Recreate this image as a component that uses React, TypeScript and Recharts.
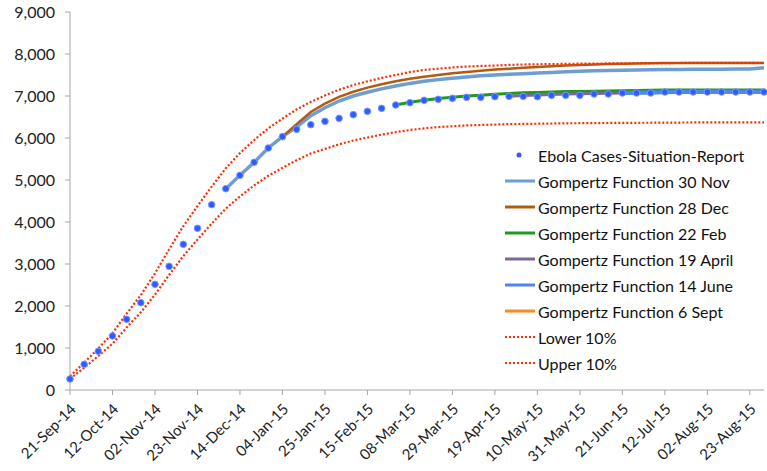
import { ComposedChart, Line, XAxis, YAxis, Legend } from 'recharts';

// weekly report dates
const dates = [
  '21-Sep-14', '28-Sep-14', '05-Oct-14', '12-Oct-14', '19-Oct-14', '26-Oct-14', '02-Nov-14', '09-Nov-14',
  '16-Nov-14', '23-Nov-14', '30-Nov-14', '07-Dec-14', '14-Dec-14', '21-Dec-14', '28-Dec-14', '04-Jan-15',
  '11-Jan-15', '18-Jan-15', '25-Jan-15', '01-Feb-15', '08-Feb-15', '15-Feb-15', '22-Feb-15', '01-Mar-15',
  '08-Mar-15', '15-Mar-15', '22-Mar-15', '29-Mar-15', '05-Apr-15', '12-Apr-15', '19-Apr-15', '26-Apr-15',
  '03-May-15', '10-May-15', '17-May-15', '24-May-15', '31-May-15', '07-Jun-15', '14-Jun-15', '21-Jun-15',
  '28-Jun-15', '05-Jul-15', '12-Jul-15', '19-Jul-15', '26-Jul-15', '02-Aug-15', '09-Aug-15', '16-Aug-15',
  '23-Aug-15', '30-Aug-15',
];

const ebola = [
  262, 611, 921, 1286, 1683, 2079, 2516, 2944, 3468, 3850, 4412, 4793, 5111, 5421, 5762, 6032, 6206, 6317,
  6397, 6468, 6556, 6635, 6706, 6786, 6841, 6897, 6921, 6944, 6968, 6968, 6984, 6992, 6992, 6984, 7016, 7016,
  7016, 7048, 7048, 7071, 7071, 7071, 7095, 7095, 7095, 7095, 7095, 7095, 7095, 7095,
];

const n = null;

const gomp30Nov = [
  n, n, n, n, n, n, n, n, n, n, n,
  4793, 5111, 5421, 5762, 6032, 6260, 6530, 6720, 6880, 7000, 7090, 7170, 7240, 7300, 7350, 7390, 7420, 7450,
  7480, 7500, 7515, 7530, 7545, 7560, 7575, 7590, 7600, 7610, 7615, 7620, 7625, 7630, 7630, 7635, 7635, 7635,
  7640, 7645, 7670,
];

const gomp28Dec = [
  n, n, n, n, n, n, n, n, n, n, n, n, n, n, n,
  6032, 6330, 6620, 6820, 6980, 7100, 7200, 7280, 7350, 7410, 7460, 7500, 7540, 7570, 7600, 7630, 7650, 7670,
  7690, 7710, 7725, 7740, 7750, 7760, 7770, 7775, 7780, 7785, 7785, 7785, 7785, 7785, 7785, 7785, 7785,
];

const gomp22Feb = [
  n, n, n, n, n, n, n, n, n, n, n, n, n, n, n, n, n, n, n, n, n, n, n,
  6786, 6850, 6900, 6940, 6970, 7000, 7020, 7040, 7060, 7075, 7085, 7095, 7105, 7110, 7115, 7120, 7125, 7130,
  7135, 7140, 7140, 7140, 7140, 7140, 7140, 7140, 7140,
];

const gomp19Apr = [
  n, n, n, n, n, n, n, n, n, n, n, n, n, n, n, n, n, n, n, n, n, n, n, n, n, n, n, n, n, n, n,
  6992, 7010, 7025, 7035, 7045, 7055, 7060, 7065, 7070, 7075, 7080, 7085, 7090, 7090, 7090, 7090, 7090, 7090,
  7090,
];

const gomp14Jun = [
  n, n, n, n, n, n, n, n, n, n, n, n, n, n, n, n, n, n, n, n, n, n, n, n, n, n, n, n, n, n, n, n, n, n, n, n,
  n, n, n,
  7071, 7078, 7084, 7090, 7095, 7098, 7100, 7100, 7100, 7100, 7100,
];

// 6 Sept fit starts after the last report, so only the legend shows it
const gomp6Sep: (number | null)[] = dates.map(() => null);

const upper10 = [
  330, 650, 990, 1350, 1820, 2260, 2780, 3350, 3900, 4380, 4840, 5280, 5640, 5950, 6230, 6460, 6680, 6860,
  7010, 7150, 7260, 7350, 7430, 7500, 7570, 7620, 7650, 7680, 7700, 7715, 7725, 7740, 7750, 7755, 7760, 7765,
  7770, 7772, 7775, 7778, 7780, 7782, 7784, 7786, 7788, 7790, 7790, 7790, 7790, 7790,
];

const lower10 = [
  270, 530, 810, 1100, 1490, 1850, 2270, 2740, 3190, 3580, 3960, 4320, 4610, 4870, 5100, 5290, 5470, 5630,
  5740, 5850, 5940, 6010, 6080, 6140, 6190, 6230, 6260, 6280, 6300, 6310, 6320, 6330, 6335, 6340, 6345, 6350,
  6352, 6355, 6358, 6360, 6362, 6364, 6366, 6368, 6370, 6370, 6370, 6370, 6370, 6370,
];

const yTicks = [0, 1000, 2000, 3000, 4000, 5000, 6000, 7000, 8000, 9000];

const rows = dates.map((d, i) => ({
  date: d,
  ebola: ebola[i],
  g30Nov: gomp30Nov[i],
  g28Dec: gomp28Dec[i],
  g22Feb: gomp22Feb[i],
  g19Apr: gomp19Apr[i],
  g14Jun: gomp14Jun[i],
  g6Sep: gomp6Sep[i],
  lower: lower10[i],
  upper: upper10[i],
}));

const FONT = 'Lato, "Open Sans", sans-serif';
const RED = '#ff2a00';

const legendItems = [
  { name: 'Ebola Cases-Situation-Report', color: '#2f5cff', kind: 'dot' },
  { name: 'Gompertz Function 30 Nov', color: '#6d9ed3', kind: 'line' },
  { name: 'Gompertz Function 28 Dec', color: '#b05b12', kind: 'line' },
  { name: 'Gompertz Function 22 Feb', color: '#1e9a1e', kind: 'line' },
  { name: 'Gompertz Function 19 April', color: '#7e6699', kind: 'line' },
  { name: 'Gompertz Function 14 June', color: '#4a86f5', kind: 'line' },
  { name: 'Gompertz Function 6 Sept', color: '#ff8a1e', kind: 'line' },
  { name: 'Lower 10%', color: RED, kind: 'dots' },
  { name: 'Upper 10%', color: RED, kind: 'dots' },
];

function ChartLegend() {
  return (
    <div style={{ fontFamily: FONT, fontSize: 16, color: '#111' }}>
      {legendItems.map((it) => (
        <div key={it.name} style={{ display: 'flex', alignItems: 'center', height: 26 }}>
          <svg width={33} height={10} style={{ flex: 'none' }}>
            {it.kind === 'dot' && <circle cx={14} cy={5} r={2.5} fill={it.color} />}
            {it.kind === 'line' && <line x1={0} y1={5} x2={30} y2={5} stroke={it.color} strokeWidth={3} />}
            {it.kind === 'dots' && (
              <line x1={0} y1={5} x2={30} y2={5} stroke={it.color} strokeWidth={2.2} strokeDasharray="2 2" />
            )}
          </svg>
          <span style={{ whiteSpace: 'nowrap' }}>{it.name}</span>
        </div>
      ))}
    </div>
  );
}

function DateTick({ x, y, payload }: any) {
  const px = x + 7;
  const py = y + 15;
  return (
    <text
      x={px}
      y={py}
      transform={`rotate(-45 ${px} ${py})`}
      textAnchor="end"
      fontFamily={FONT}
      fontSize={15}
      fill="#222"
    >
      {payload.value}
    </text>
  );
}

export default function App() {
  return (
    <div style={{ position: 'absolute', left: 0, top: 0, background: '#fff' }}>
      <ComposedChart width={767} height={471} data={rows} margin={{ top: 12, right: 3, bottom: 0, left: 0 }}>
        <XAxis
          dataKey="date"
          interval={2}
          tick={<DateTick />}
          tickSize={5}
          tickMargin={0}
          height={81}
          stroke="#a6a6a6"
          tickLine={{ stroke: '#a6a6a6' }}
        />
        <YAxis
          domain={[0, 9000]}
          ticks={yTicks}
          width={70}
          tickSize={5}
          tickMargin={10}
          stroke="#a6a6a6"
          tickFormatter={(v: number) => v.toLocaleString('en-US')}
          tick={{ fontFamily: FONT, fontSize: 16, fill: '#222' }}
        />
        <Legend
          content={<ChartLegend />}
          layout="vertical"
          align="center"
          verticalAlign="middle"
          wrapperStyle={{ position: 'absolute', left: 505, top: 142, width: 262 }}
        />
        <Line dataKey="g6Sep" stroke="#ff8a1e" strokeWidth={3} dot={false} isAnimationActive={false} />
        <Line dataKey="g30Nov" stroke="#6d9ed3" strokeWidth={3.5} dot={false} isAnimationActive={false} />
        <Line dataKey="g28Dec" stroke="#b05b12" strokeWidth={2.5} dot={false} isAnimationActive={false} />
        <Line dataKey="g22Feb" stroke="#1e9a1e" strokeWidth={3} dot={false} isAnimationActive={false} />
        <Line dataKey="g19Apr" stroke="#7e6699" strokeWidth={3} dot={false} isAnimationActive={false} />
        <Line dataKey="g14Jun" stroke="#4a86f5" strokeWidth={4} dot={false} isAnimationActive={false} />
        <Line dataKey="lower" stroke={RED} strokeWidth={2.2} strokeDasharray="2 2" dot={false} isAnimationActive={false} />
        <Line dataKey="upper" stroke={RED} strokeWidth={2.2} strokeDasharray="2 2" dot={false} isAnimationActive={false} />
        <Line
          dataKey="ebola"
          stroke="none"
          dot={{ r: 3.3, fill: '#2f5cff', stroke: '#7d98ff', strokeWidth: 1 }}
          activeDot={false}
          isAnimationActive={false}
        />
      </ComposedChart>
    </div>
  );
}
